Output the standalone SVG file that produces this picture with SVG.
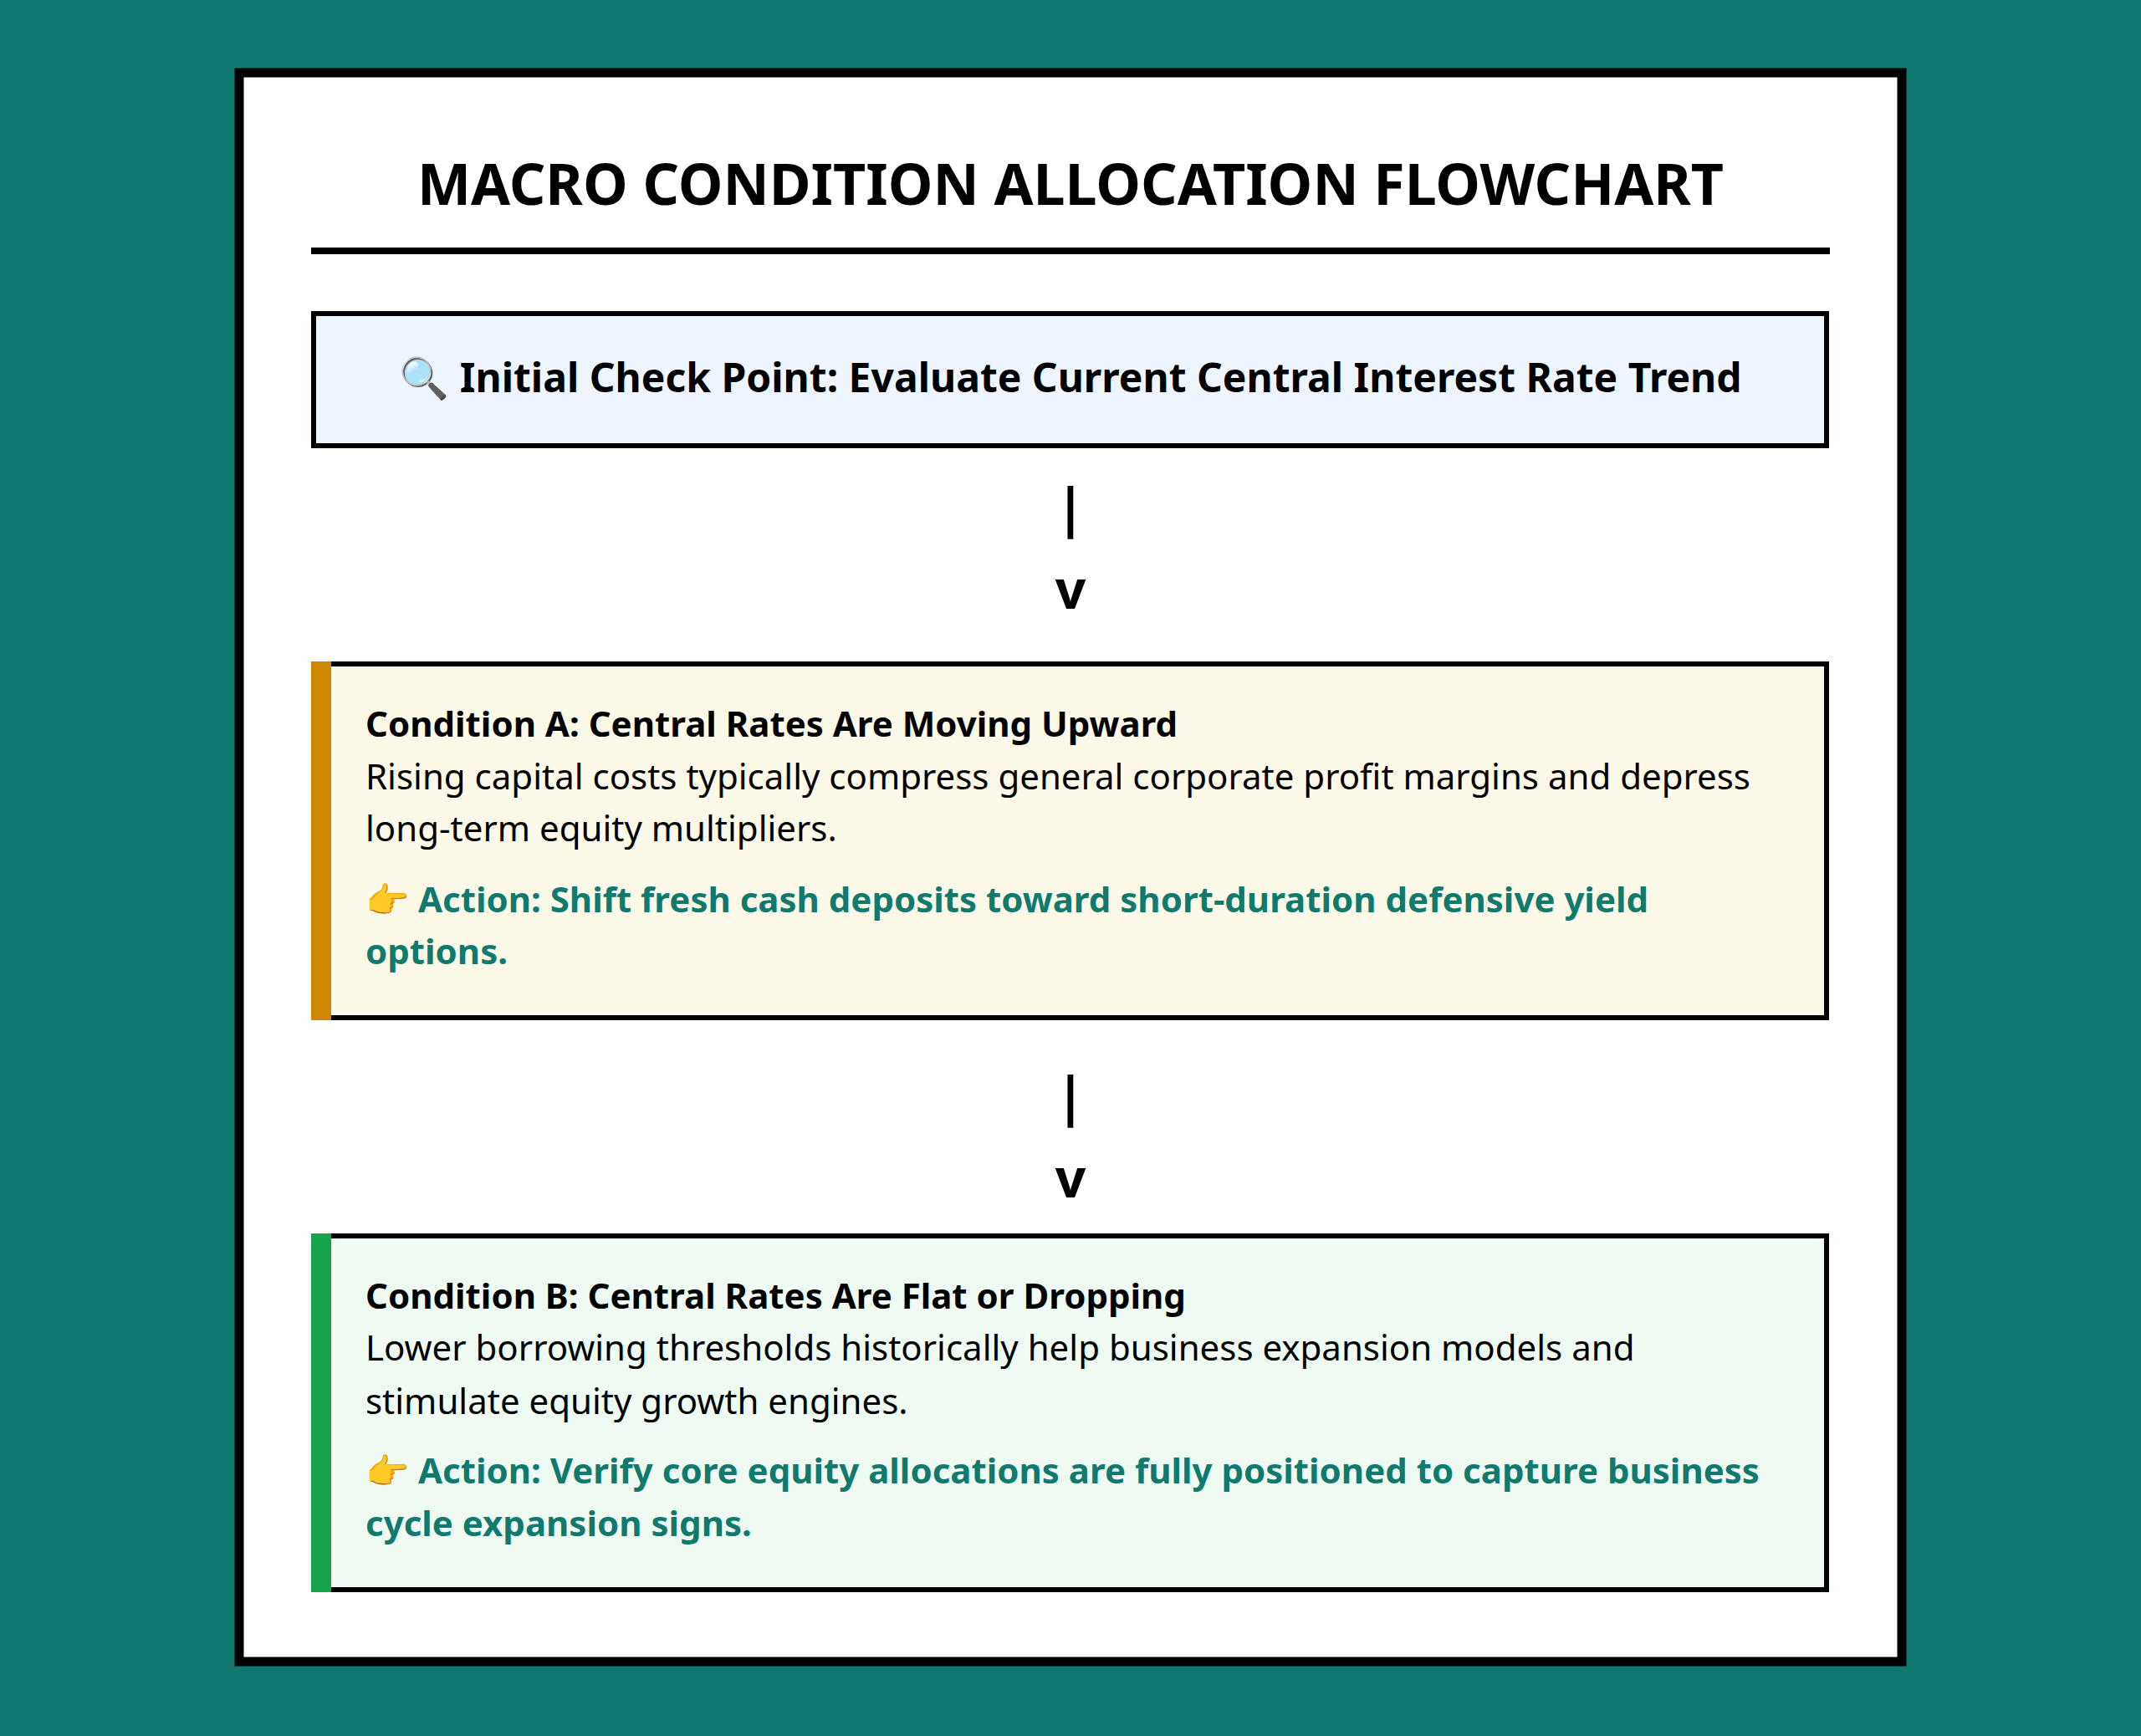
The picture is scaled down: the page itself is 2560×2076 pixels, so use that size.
<svg xmlns="http://www.w3.org/2000/svg" width="2560" height="2076" viewBox="0 0 2560 2076">
<style>
text{font-family:"Noto Sans","Open Sans","DejaVu Sans",sans-serif;fill:#000}
.h{font-size:42px;font-weight:bold}
.b{font-size:42px}
.a{font-size:42px;font-weight:bold;fill:#117a6e}
.arr{font-size:64px;font-weight:bold;text-anchor:middle}
.box{stroke:#000;stroke-width:6}
</style>
<rect width="2560" height="2076" fill="#11786f"/>
<rect x="286" y="87" width="1988" height="1900" fill="#fff" stroke="#000" stroke-width="11"/>
<g id="title">
<text x="1280" y="245" text-anchor="middle" style="font-size:68px;font-weight:bold">MACRO CONDITION ALLOCATION FLOWCHART</text>
<rect x="372" y="296" width="1816" height="8" fill="#000"/>
</g>
<g id="start">
<rect class="box" x="375" y="375" width="1809" height="158" fill="#eef5ff"/>
<text x="1280" y="469" text-anchor="middle" style="font-size:48px;font-weight:bold">🔍 Initial Check Point: Evaluate Current Central Interest Rate Trend</text>
</g>
<g id="connectors">
<text class="arr" x="1280" y="630">|</text>
<text class="arr" x="1280" y="728">v</text>
<text class="arr" x="1280" y="1334">|</text>
<text class="arr" x="1280" y="1432">v</text>
</g>
<g id="condA">
<rect class="box" x="375" y="794" width="1809" height="423" fill="#fdf9e8"/>
<rect x="372" y="791" width="24" height="429" fill="#cc8800"/>
<text class="h" x="437" y="881">Condition A: Central Rates Are Moving Upward</text>
<text class="b" x="437" y="944">Rising capital costs typically compress general corporate profit margins and depress</text>
<text class="b" x="437" y="1006">long-term equity multipliers.</text>
<text class="a" x="437" y="1091">👉 Action: Shift fresh cash deposits toward short-duration defensive yield</text>
<text class="a" x="437" y="1153">options.</text>
</g>
<g id="condB">
<rect class="box" x="375" y="1478" width="1809" height="423" fill="#effbf2"/>
<rect x="372" y="1475" width="24" height="429" fill="#16a34a"/>
<text class="h" x="437" y="1565">Condition B: Central Rates Are Flat or Dropping</text>
<text class="b" x="437" y="1627">Lower borrowing thresholds historically help business expansion models and</text>
<text class="b" x="437" y="1691">stimulate equity growth engines.</text>
<text class="a" x="437" y="1774">👉 Action: Verify core equity allocations are fully positioned to capture business</text>
<text class="a" x="437" y="1837">cycle expansion signs.</text>
</g>
</svg>
